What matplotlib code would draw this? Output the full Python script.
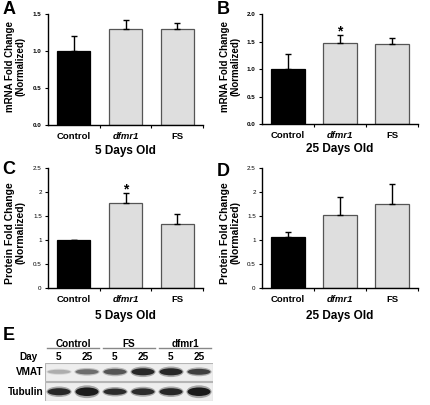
import matplotlib
matplotlib.use("Agg")
import matplotlib.pyplot as plt
from matplotlib.patches import Ellipse, Rectangle
from matplotlib.ticker import FormatStrFormatter

plt.rcParams['font.family'] = ['Liberation Sans', 'DejaVu Sans']

W, H = 430, 405

# data
groups = ['Control', 'dfmr1', 'FS']
mrna_5d = [1.0, 1.30, 1.30]
mrna_5d_err = [0.20, 0.12, 0.08]
mrna_25d = [1.0, 1.47, 1.45]
mrna_25d_err = [0.28, 0.14, 0.12]
prot_5d = [0.99, 1.77, 1.34]
prot_5d_err = [0.02, 0.20, 0.21]
prot_25d = [1.06, 1.53, 1.75]
prot_25d_err = [0.10, 0.36, 0.41]

blot_groups = ['Control', 'FS', 'dfmr1']
blot_days = ['5', '25', '5', '25', '5', '25']
vmat_level = [0.35, 0.62, 0.72, 0.92, 0.92, 0.82]
tubulin_level = [0.92, 0.97, 0.9, 0.9, 0.92, 0.97]
tubulin_thick = [0.38, 0.46, 0.34, 0.36, 0.38, 0.46]
vmat_thick = [0.22, 0.28, 0.32, 0.38, 0.38, 0.32]

fig = plt.figure(figsize=(W / 100, H / 100), dpi=100)


def box(l, t, r, b):
    return [l / W, 1 - b / H, (r - l) / W, (b - t) / H]


def fx(x):
    return x / W


def fy(y):
    return 1 - y / H


def bar_panel(rect, vals, errs, ymax, step, fmt, bold_ticks, star, xlabel):
    ax = fig.add_axes(rect)
    x = range(len(groups))
    colors = ['black', '#dedede', '#dedede']
    edges = ['black', '#555555', '#555555']
    ax.bar(x, vals, width=0.64, color=colors, edgecolor=edges, linewidth=0.9,
           zorder=2)
    ax.errorbar(x, vals, yerr=[[0] * len(vals), errs], fmt='none',
                ecolor='black', elinewidth=1.0, capsize=2.2, capthick=1.0,
                zorder=3)
    ax.set_xlim(-0.5, len(groups) - 0.5)
    ax.set_ylim(0, ymax)
    ticks = [i * step for i in range(int(round(ymax / step)) + 1)]
    ax.set_yticks(ticks)
    ax.yaxis.set_major_formatter(fmt)
    for s in ['top', 'right']:
        ax.spines[s].set_visible(False)
    for s in ['left', 'bottom']:
        ax.spines[s].set_linewidth(1.0)
    ax.tick_params(axis='y', direction='out', length=2.5, width=0.8,
                   labelsize=4.5, pad=2)
    for lab in ax.get_yticklabels():
        lab.set_fontweight('bold' if bold_ticks else 'normal')
    # category ticks sit between bars
    ax.set_xticks([i + 0.5 for i in range(len(groups))])
    ax.set_xticklabels([])
    ax.tick_params(axis='x', direction='out', length=2.5, width=0.8)
    for i, g in enumerate(groups):
        ax.text(i, -0.1, g, transform=ax.get_xaxis_transform(), ha='center',
                va='center', fontsize=6.8, fontweight='bold',
                style='italic' if g == 'dfmr1' else 'normal')
    ax.text(0.5, -0.23, xlabel, transform=ax.transAxes, ha='center',
            va='center', fontsize=8.5, fontweight='bold')
    if star is not None:
        ax.text(star, vals[star] + errs[star] + ymax * 0.035, '*',
                ha='center', va='center', fontsize=10, fontweight='bold')
    return ax


bar_panel(box(48, 14, 203, 125), mrna_5d, mrna_5d_err, 1.5, 0.5,
          FormatStrFormatter('%.1f'), True, None, '5 Days Old')
bar_panel(box(262, 14, 418, 124), mrna_25d, mrna_25d_err, 2.0, 0.5,
          FormatStrFormatter('%.1f'), True, 1, '25 Days Old')
bar_panel(box(48, 168, 203, 288), prot_5d, prot_5d_err, 2.5, 0.5,
          FormatStrFormatter('%g'), False, 1, '5 Days Old')
bar_panel(box(262, 168, 418, 288), prot_25d, prot_25d_err, 2.5, 0.5,
          FormatStrFormatter('%g'), False, None, '25 Days Old')

# y labels
ylab_kw = dict(rotation=90, ha='center', va='center', fontweight='bold',
               linespacing=1.05)
fig.text(fx(15), fy(66), 'mRNA Fold Change\n(Normalized)', fontsize=7.0,
         **ylab_kw)
fig.text(fx(230), fy(66), 'mRNA Fold Change\n(Normalized)', fontsize=7.0,
         **ylab_kw)
fig.text(fx(15), fy(233), 'Protein Fold Change\n(Normalized)', fontsize=7.5,
         **ylab_kw)
fig.text(fx(230), fy(233), 'Protein Fold Change\n(Normalized)', fontsize=7.5,
         **ylab_kw)

# panel letters
for letter, x, y in [('A', 9, 9), ('B', 223, 9), ('C', 9, 170),
                     ('D', 223, 171), ('E', 9, 335)]:
    fig.text(fx(x), fy(y), letter, ha='center', va='center', fontsize=13,
             fontweight='bold')

# panel E: western blot
axe = fig.add_axes(box(45, 363, 213, 401))
n = len(blot_days)
axe.set_xlim(0, n)
axe.set_ylim(0, 2.05)
axe.axis('off')
row_y = {'Tubulin': (0.0, 1.0), 'VMAT': (1.1, 2.05)}
for name, (y0, y1) in row_y.items():
    axe.add_patch(Rectangle((0, y0), n, y1 - y0, facecolor='#eeeeee',
                            edgecolor='#b5b5b5', linewidth=0.8))
    axe.text(-0.07, (y0 + y1) / 2, name, ha='right', va='center',
             fontsize=7.2, fontweight='bold', clip_on=False)

for i in range(n):
    xc = i + 0.5
    for lev, th, (y0, y1) in [(tubulin_level[i], tubulin_thick[i], row_y['Tubulin']),
                              (vmat_level[i], vmat_thick[i], row_y['VMAT'])]:
        yc = (y0 + y1) / 2
        g = 1 - lev * 0.92
        # soft halo then core
        axe.add_patch(Ellipse((xc, yc), 0.9, th * 1.5,
                              facecolor=(g, g, g), alpha=0.35, linewidth=0))
        axe.add_patch(Ellipse((xc, yc), 0.82, th,
                              facecolor=(g, g, g), linewidth=0))

for i, d in enumerate(blot_days):
    axe.text(i + 0.5, 2.37, d, ha='center', va='center', fontsize=7.2,
             fontweight='bold', clip_on=False)
axe.text(-0.25, 2.37, 'Day', ha='right', va='center', fontsize=7.2,
         fontweight='bold', clip_on=False)
for j, g in enumerate(blot_groups):
    axe.text(2 * j + 1, 3.1, g, ha='center', va='center', fontsize=7.2,
             fontweight='bold', clip_on=False)
    axe.plot([2 * j + 0.07, 2 * j + 1.93], [2.86, 2.86], color='#888888',
             linewidth=1.0, clip_on=False)

fig.savefig('out.png', dpi=100)
